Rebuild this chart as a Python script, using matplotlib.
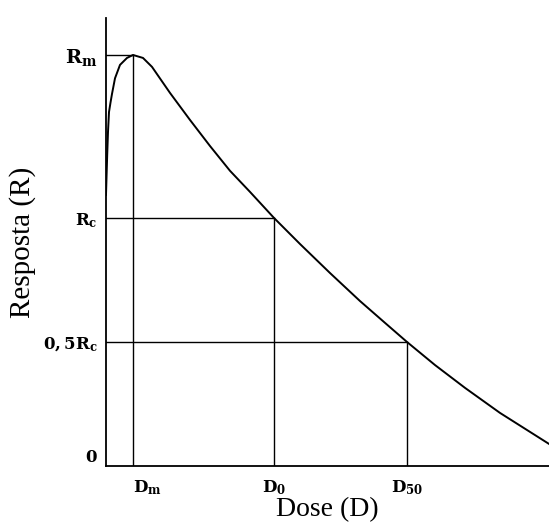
import matplotlib
matplotlib.use("Agg")
import matplotlib.pyplot as plt

# curve (dose in arbitrary units, response relative to Rc)
dose = [0, 0.5, 1.2, 2, 3, 4.5, 6, 9, 14, 21, 27, 37, 46, 64, 84, 104, 124,
        144, 168, 194, 224, 254, 279, 301, 329, 359, 394, 443]
response = [1.093, 1.161, 1.254, 1.347, 1.427, 1.465, 1.500, 1.563, 1.617,
            1.645, 1.657, 1.645, 1.609, 1.504, 1.395, 1.290, 1.190, 1.105,
            1.0, 0.895, 0.778, 0.665, 0.577, 0.5, 0.407, 0.315, 0.214, 0.089]

d_m, d_0, d_50 = 27, 168, 301
r_m, r_c = 1.657, 1.0

x_labels = [r"$\mathbf{D_m}$", r"$\mathbf{D_0}$", r"$\mathbf{D_{50}}$"]
y_labels = [r"$\mathbf{0}$", r"$\mathbf{0,5R_c}$", r"$\mathbf{R_c}$", r"$\mathbf{R_m}$"]

plt.rcParams["mathtext.fontset"] = "dejavuserif"

fig = plt.figure(figsize=(5.49, 5.27), dpi=100)
ax = fig.add_axes([106 / 549, 61 / 527, 443 / 549, 448 / 527])

ax.plot(dose, response, color="black", lw=1.4, solid_joinstyle="round")

# guide lines
ax.plot([0, d_m], [r_m, r_m], color="black", lw=1.0)
ax.plot([d_m, d_m], [0, r_m], color="black", lw=1.0)
ax.plot([0, d_0], [r_c, r_c], color="black", lw=1.0)
ax.plot([d_0, d_0], [0, r_c], color="black", lw=1.0)
ax.plot([0, d_50], [r_c / 2, r_c / 2], color="black", lw=1.0)
ax.plot([d_50, d_50], [0, r_c / 2], color="black", lw=1.0)

ax.set_xlim(0, 443)
ax.set_ylim(0, 1.806)

for s in ["top", "right"]:
    ax.spines[s].set_visible(False)
for s in ["left", "bottom"]:
    ax.spines[s].set_linewidth(1.3)

ax.set_xticks([d_m, d_0, d_50])
ax.set_xticklabels(x_labels, fontsize=12)
ax.set_yticks([0, r_c / 2, r_c, r_m])
ax.set_yticklabels(y_labels, fontsize=12)
ax.tick_params(length=0, pad=6)
ax.tick_params(axis="x", pad=9)
ax.get_xticklabels()[0].set_horizontalalignment("left")
ax.get_yticklabels()[0].set_verticalalignment("bottom")
ax.get_yticklabels()[3].set_fontsize(14)

ax.set_xlabel("Dose (D)", fontsize=20, family="Liberation Serif", labelpad=0)
ax.set_ylabel("Resposta (R)", fontsize=21, family="Liberation Serif", labelpad=5)

fig.savefig("out.png", dpi=100)
